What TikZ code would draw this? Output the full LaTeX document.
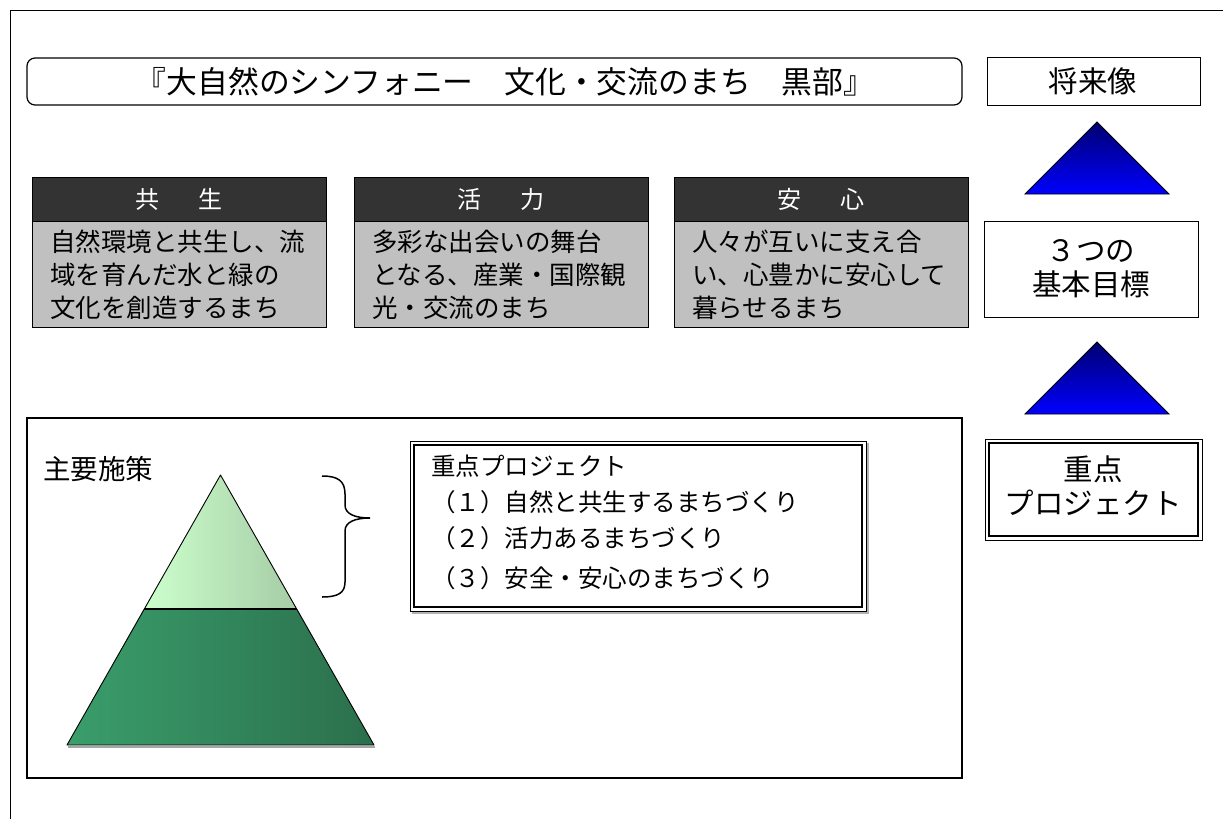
\documentclass[tikz,border=0pt]{standalone}
\usepackage{fontspec}
\setmainfont{Noto Sans CJK JP}
\definecolor{hdrgray}{HTML}{333333}
\definecolor{bodygray}{HTML}{C0C0C0}
\definecolor{lgreenL}{HTML}{CCFFCC}
\definecolor{lgreenR}{HTML}{A6CCA6}
\definecolor{dgreenL}{HTML}{3A9E6B}
\definecolor{dgreenR}{HTML}{2B6F4C}
\definecolor{navytop}{HTML}{000070}
\definecolor{bluebot}{HTML}{0000FF}
\begin{document}
\begin{tikzpicture}[x=1pt,y=-1pt,
  frame/.style={draw=black,line width=1pt},
  hdr/.style={fill=hdrgray,draw=black,line width=1pt},
  bodybox/.style={fill=bodygray,draw=black,line width=1pt},
  htxt/.style={font=\fontsize{24}{28}\selectfont,text=white,inner sep=0pt},
  btxt/.style={font=\fontsize{25.5}{33}\selectfont,align=left,anchor=west,inner sep=0pt},
  rtxt/.style={font=\fontsize{29.5}{34}\selectfont,inner sep=0pt,align=center},
  ptxt/.style={font=\fontsize{24.5}{30}\selectfont,inner sep=0pt,anchor=west},
  uptri/.style={top color=navytop,bottom color=bluebot,draw=black,line width=0.8pt}
]
\useasboundingbox (0,0) rectangle (1223,819);
\fill[white] (0,0) rectangle (1223,819);
% outer frame
\draw[line width=1pt] (10,819) -- (10,10) -- (1223,10);

% title
\draw[frame,line width=1.2pt,rounded corners=8pt] (27,58) rectangle (962,105);
\node[font=\fontsize{30.8}{34}\selectfont,inner sep=0pt] (title) at (505,81.5) {『大自然のシンフォニー　文化・交流のまち　黒部』};

% right column
\draw[frame] (987,57) rectangle (1200,105);
\node[rtxt] (future) at (1093,81) {将来像};
\draw[uptri] (1097,122) -- (1169,194) -- (1025,194) -- cycle;
\draw[frame] (984,221) rectangle (1198,317);
\node[rtxt] (goals) at (1091,269) {３つの\\基本目標};
\draw[uptri] (1097,342) -- (1169,414) -- (1025,414) -- cycle;
\draw[frame] (985,439) rectangle (1202,540);
\draw[line width=1.6pt] (989,443) rectangle (1198,536);
\node[rtxt] (projR) at (1093,486) {重点\\プロジェクト};

% three goal boxes
\foreach \xl/\hd/\nm in {32/共\hspace{39pt}生/kyosei,354/活\hspace{39pt}力/katsuryoku,674/安\hspace{39pt}心/anshin}{
  \draw[hdr] (\xl,177) rectangle ({\xl+294},221);
  \draw[bodybox] (\xl,221) rectangle ({\xl+294},327);
  \node[htxt] (\nm) at ({\xl+147},199) {\hd};
}
\node[btxt] (t1) at (50,275) {自然環境と共生し、流\\域を育んだ水と緑の\\文化を創造するまち};
\node[btxt] (t2) at (372,275) {多彩な出会いの舞台\\となる、産業・国際観\\光・交流のまち};
\node[btxt] (t3) at (692,275) {人々が互いに支え合\\い、心豊かに安心して\\暮らせるまち};

% big bottom box
\draw[frame,line width=1.4pt] (27,418) rectangle (962,778);
\node[font=\fontsize{27.5}{30}\selectfont,inner sep=0pt,anchor=west] (shuyo) at (43,469) {主要施策};

% pyramid
\shade[left color=dgreenL,right color=dgreenR] (144,609) -- (297,609) -- (374,745) -- (67,745) -- cycle;
\shade[left color=lgreenL,right color=lgreenR] (220.5,475) -- (297,609) -- (144,609) -- cycle;
\draw[gray!70,line width=1.2pt] (68,747) -- (375,747);
\draw[line width=0.9pt,line join=round] (220.5,475) -- (374,745) -- (67,745) -- cycle;
\draw[line width=1.1pt] (144,609) -- (297,609);

% brace
\draw[line width=1.5pt] (322,476) .. controls (338,476) and (345,481) .. (345,494)
  -- (345,505) .. controls (345,514) and (355,518) .. (370,518)
  .. controls (355,518) and (345,522) .. (345,531)
  -- (345,582) .. controls (345,593) and (338,597) .. (322,597);

% project box
\draw[gray!60,line width=1.2pt] (412,613) -- (868,613) -- (868,443);
\draw[line width=1pt] (410,441) rectangle (866,611);
\draw[line width=1.6pt] (414,445) rectangle (862,607);
\node[ptxt] (p0) at (431,466) {重点プロジェクト};
\node[ptxt] (p1) at (431,502) {（１）自然と共生するまちづくり};
\node[ptxt] (p2) at (431,538) {（２）活力あるまちづくり};
\node[ptxt] (p3) at (431,578) {（３）安全・安心のまちづくり};
\end{tikzpicture}
\end{document}
